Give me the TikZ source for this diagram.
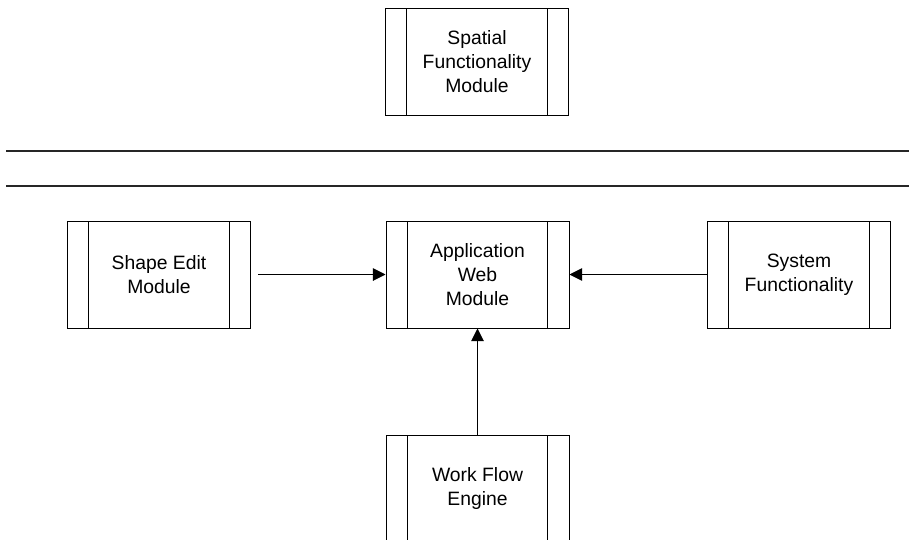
\documentclass[tikz,border=0pt]{standalone}
\usepackage{fontspec}
\setmainfont{Liberation Sans}
\usetikzlibrary{arrows.meta}

\begin{document}
\begin{tikzpicture} [
    x=0.75pt, y=-0.75pt,
    module/.style  = { rectangle, draw=black, line width=0.75pt,
                       minimum width=137.25pt, minimum height=80.25pt,
                       align=center, inner sep=0pt,
                       font=\fontsize{14.5}{18}\selectfont,
                       path picture={
                         \draw[line width=0.75pt]
                           ([xshift=16pt]path picture bounding box.north west) --
                           ([xshift=16pt]path picture bounding box.south west)
                           ([xshift=-16pt]path picture bounding box.north east) --
                           ([xshift=-16pt]path picture bounding box.south east);
                       } },
    line/.style    = { draw, line width=0.75pt,
                       -{Triangle[length=9.5pt,width=9.5pt]} },
    divider/.style = { draw=black!85, line width=1pt },
  ]

\useasboundingbox (0,0) rectangle (909,539);

\node [module] (spatial) at (477,61.5)   {Spatial \\ Functionality \\ Module};
\node [module] (shape)   at (159,274.5)  {Shape Edit \\ Module};
\node [module] (app)     at (477.5,274.5) {Application \\ Web \\ Module};
\node [module] (system)  at (799,274.5)  {System \\ Functionality};
\node [module] (flow)    at (477.5,488.5) {Work Flow \\ Engine};

% separator lines
\coordinate (sepA) at (6,151);
\coordinate (sepB) at (6,186);
\path [divider] (sepA) -- (sepA -| 909,0);
\path [divider] (sepB) -- (sepB -| 909,0);

\begin{scope} [every path/.style=line]
    \path [shorten <=5.25pt] (shape) -- (app);
    \path (system) -- (app);
    \path (flow)   -- (app);
\end{scope}

\end{tikzpicture}
\end{document}
